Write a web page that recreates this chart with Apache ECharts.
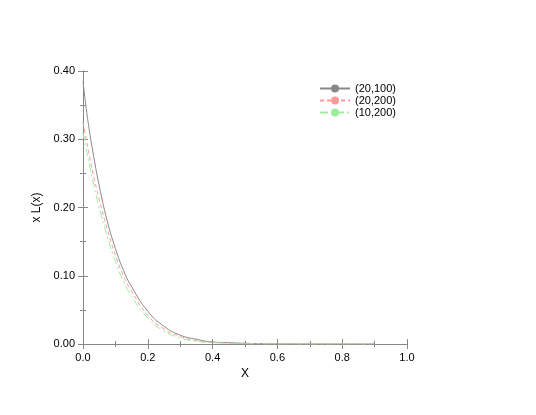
<!DOCTYPE html><html><head><meta charset="utf-8"><script src="https://cdn.jsdelivr.net/npm/echarts@6/dist/echarts.min.js"></script></head><body style="margin:0;background:#fff"><div id="c" style="width:536px;height:415px"></div><script>
const xs=[0,0.01,0.02,0.03,0.05,0.075,0.1,0.125,0.15,0.2,0.25,0.3,0.35,0.4,0.45,0.5,0.55,0.6,0.7,0.8,0.9];
const s1=[0.385,0.345,0.312,0.283,0.232,0.180,0.140,0.108,0.084,0.048,0.026,0.013,0.007,0.003,0.002,0.001,0.0005,0.0002,0.0001,0,0];
const s2=[0.325,0.300,0.275,0.252,0.212,0.168,0.130,0.100,0.077,0.042,0.022,0.011,0.005,0.0025,0.0012,0.0005,0.0002,0.0001,0,0,0];
const s3=[0.310,0.285,0.262,0.240,0.200,0.157,0.121,0.092,0.070,0.038,0.019,0.009,0.004,0.002,0.001,0.0004,0.0002,0.0001,0,0,0];
const names=['(20,100)','(20,200)','(10,200)'];
const colors=['#888888','#ff9999','#99ee99'];
const types=['solid',[4,3],[8,3,2,3]];
const base={axisLine:{lineStyle:{color:'#888'}},axisTick:{inside:true,length:5,lineStyle:{color:'#888'}},minorTick:{show:true,splitNumber:2,length:3,lineStyle:{color:'#888'}},splitLine:{show:false}};
const lbl={color:'#000',fontFamily:'Liberation Sans',fontSize:11};
const nm={fontFamily:'Liberation Sans',fontSize:12,color:'#000'};
const ch=echarts.init(document.getElementById('c'));
ch.setOption({animation:false,
grid:{left:83,right:129,top:71,bottom:71},
legend:{right:135,top:78,orient:'vertical',itemWidth:30,itemHeight:10,itemGap:1,textStyle:{fontFamily:'Liberation Sans',fontSize:11,color:'#000'},data:names},
xAxis:[Object.assign({type:'value',min:0,max:1,interval:0.2,name:'X',nameLocation:'middle',nameGap:22,nameTextStyle:nm,axisLabel:Object.assign({},lbl,{formatter:v=>v.toFixed(1)})},base),
Object.assign({type:'value',position:'top',min:0,max:1,interval:0.2,axisLabel:{show:false}},base)],
yAxis:[Object.assign({type:'value',min:0,max:0.4,interval:0.1,name:'x L(x)',nameLocation:'middle',nameGap:38,nameTextStyle:nm,axisLabel:Object.assign({},lbl,{formatter:v=>v.toFixed(2)})},base),
Object.assign({type:'value',position:'right',min:0,max:0.4,interval:0.1,axisLabel:{show:false}},base)],
series:[s1,s2,s3].map((s,i)=>({name:names[i],type:'line',smooth:true,showSymbol:false,symbol:'none',data:xs.map((x,j)=>[x,s[j]]),lineStyle:{color:colors[i],width:1,type:types[i]},itemStyle:{color:colors[i]}}))
});
</script></body></html>
